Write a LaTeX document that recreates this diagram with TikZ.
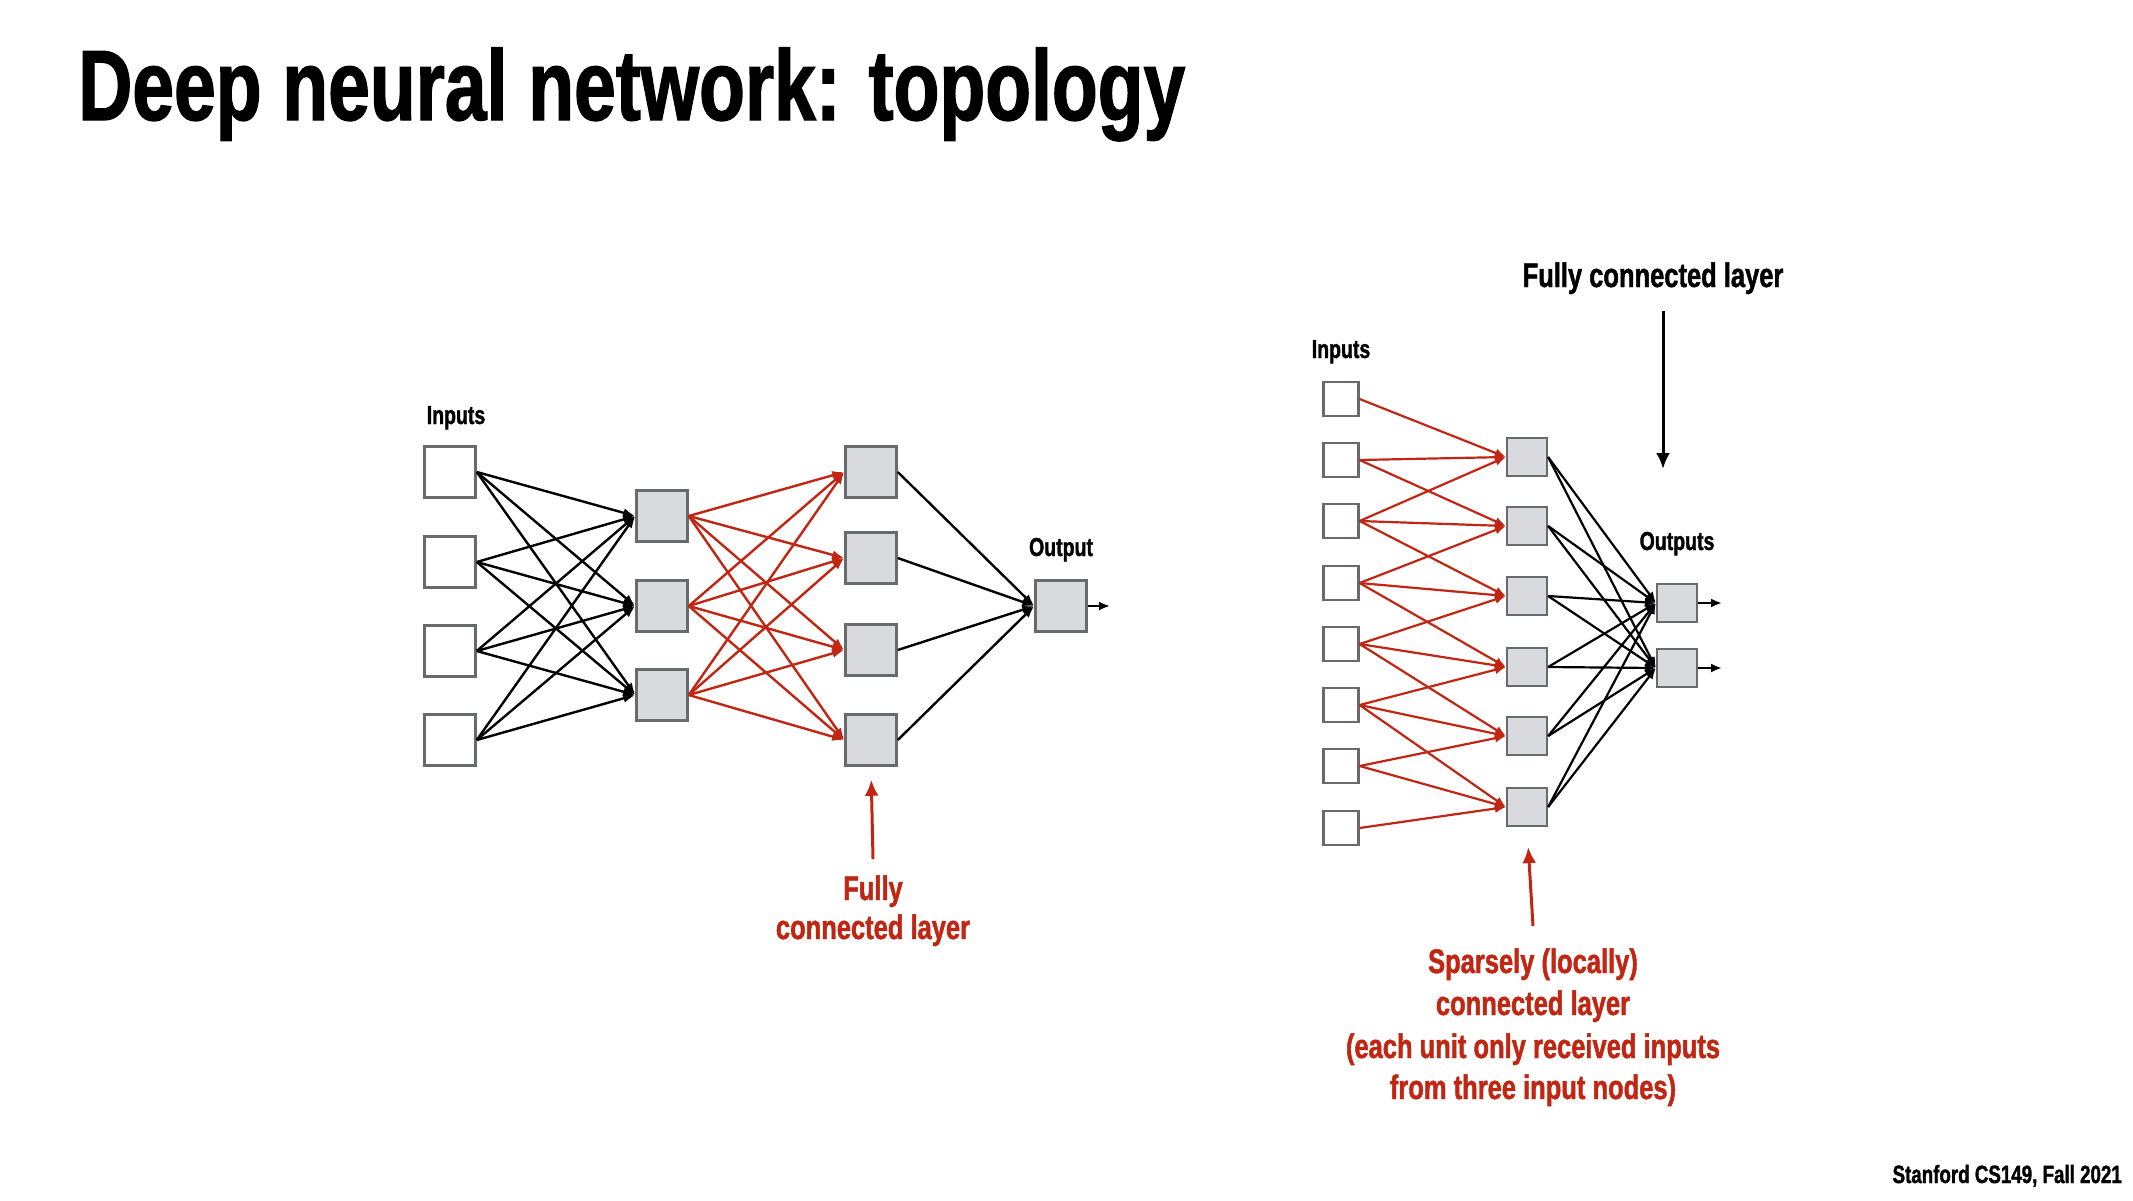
\documentclass[tikz,border=0pt]{standalone}
\usepackage{fontspec}
\setmainfont{Liberation Sans}[FakeStretch=0.75, BoldFeatures={FakeStretch=0.75, FakeBold=1.3}]
\usetikzlibrary{arrows.meta}
\definecolor{myred}{RGB}{192,38,18}
\definecolor{boxgray}{RGB}{105,106,110}
\definecolor{boxfill}{RGB}{217,218,221}
\begin{document}
\begin{tikzpicture}[x=1pt,y=-1pt,
  inbox/.style={draw=boxgray, line width=2.5pt, fill=white, minimum width=51pt, minimum height=51pt, inner sep=0pt},
  hidbox/.style={inbox, fill=boxfill},
  rinbox/.style={draw=boxgray, line width=2.2pt, fill=white, minimum width=35pt, minimum height=34pt, inner sep=0pt},
  rhidbox/.style={rinbox, fill=boxfill, minimum width=40pt, minimum height=38pt},
  blk/.style={draw=black, line width=2.4pt, -{Latex[length=12pt,width=9pt]}},
  redc/.style={blk, draw=myred, fill=myred},
  rblk/.style={draw=black, line width=2.2pt, -{Latex[length=11pt,width=9pt]}},
  rred/.style={rblk, draw=myred, fill=myred},
  bigblk/.style={draw=black, line width=3pt, -{Latex[length=16pt,width=14pt]}},
  bigred/.style={bigblk, draw=myred, fill=myred},
  lbl/.style={font=\bfseries\fontsize{26}{30}\selectfont, anchor=base, inner sep=0pt},
  redtxt/.style={font=\bfseries\fontsize{34}{42}\selectfont, anchor=base, inner sep=0pt, text=myred},
]
\useasboundingbox[fill=white] (0,0) rectangle (2133,1200);

% title and footer
\node[anchor=base west, inner sep=0pt, font=\bfseries\fontsize{100}{110}\selectfont] (title) at (78,120) {Deep neural network: topology};
\node[anchor=base east, inner sep=0pt, font=\bfseries\fontsize{25}{30}\selectfont] (footer) at (2122,1183) {Stanford CS149, Fall 2021};

% ---------- left network ----------
\foreach \i/\y in {1/472,2/562,3/651,4/740} \node[inbox] (a\i) at (450,\y) {};
\foreach \i/\y in {1/516,2/606,3/695} \node[hidbox] (b\i) at (662,\y) {};
\foreach \i/\y in {1/472,2/558,3/650,4/740} \node[hidbox] (c\i) at (871,\y) {};
\node[hidbox] (out) at (1061,606) {};
\coordinate (outend) at (1110,606);

\node[lbl] (inL) at (456,424) {Inputs};
\node[lbl] (outL) at (1061,556) {Output};

\foreach \i in {1,...,4} \foreach \j in {1,2,3} \draw[blk] (a\i.east) -- (b\j.west);
\foreach \i in {1,2,3} \foreach \j in {1,...,4} \draw[redc] (b\i.east) -- (c\j.west);
\foreach \j in {1,...,4} \draw[blk] (c\j.east) -- (out.west);
\draw[draw=black, line width=2.4pt, -{Latex[length=11pt,width=9pt]}] (out.east) -- (outend);

\node[redtxt] (fcl1) at (873,900) {Fully};
\node[redtxt] (fcl2) at (873,939) {connected layer};
\coordinate (fclstart) at (873,859);
\draw[bigred, shorten >=13pt] (fclstart) -- (c4.south);

% ---------- right network ----------
\foreach \i/\y in {1/399,2/460,3/521,4/583,5/644,6/705,7/766,8/828} \node[rinbox] (p\i) at (1341,\y) {};
\foreach \i/\y in {1/457,2/526,3/596,4/667,5/736,6/807} \node[rhidbox] (q\i) at (1527,\y) {};
\foreach \i/\y in {1/603,2/668} \node[rhidbox] (r\i) at (1677,\y) {};
\coordinate (re1) at (1722,603);
\coordinate (re2) at (1722,668);

\node[lbl] (inR) at (1341,358) {Inputs};
\node[lbl] (outR) at (1677,550) {Outputs};

\foreach \j in {1,...,6} {
  \pgfmathtruncatemacro{\ka}{\j}
  \pgfmathtruncatemacro{\kb}{\j+1}
  \pgfmathtruncatemacro{\kc}{\j+2}
  \draw[rred] (p\ka.east) -- (q\j.west);
  \draw[rred] (p\kb.east) -- (q\j.west);
  \draw[rred] (p\kc.east) -- (q\j.west);
}
\foreach \j in {1,...,6} \foreach \k in {1,2} \draw[rblk] (q\j.east) -- (r\k.west);
\draw[rblk] (r1.east) -- (re1);
\draw[rblk] (r2.east) -- (re2);

\node[font=\bfseries\fontsize{34}{42}\selectfont, anchor=base, inner sep=0pt] (fcr) at (1653,287) {Fully connected layer};
\coordinate (fcrs) at (1663,311);
\coordinate (fcre) at (1663,469);
\draw[bigblk] (fcrs) -- (fcre);

\node[redtxt] (sp1) at (1533,973) {Sparsely (locally)};
\node[redtxt] (sp2) at (1533,1015) {connected layer};
\node[redtxt] (sp3) at (1533,1058) {(each unit only received inputs};
\node[redtxt] (sp4) at (1533,1099) {from three input nodes)};
\coordinate (spstart) at (1533,926);
\draw[bigred, shorten >=20pt] (spstart) -- (q6.south);
\end{tikzpicture}
\end{document}
